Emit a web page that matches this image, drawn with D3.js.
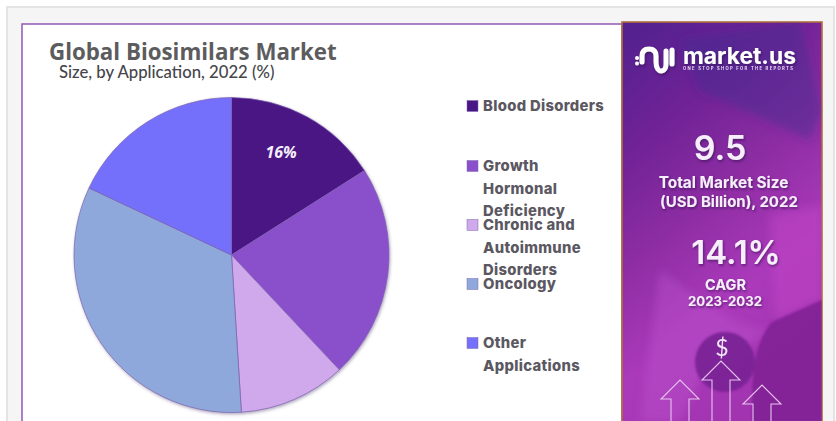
<!DOCTYPE html>
<html>
<head>
<meta charset="utf-8">
<style>
html,body{margin:0;padding:0;background:#fff;}
svg{display:block;}
</style>
<script src="https://cdn.jsdelivr.net/npm/d3@7/dist/d3.min.js"></script>
</head>
<body>
<svg id="chart" width="836" height="421"></svg>
<script>
// Market share by application, 2022 (%)
const categories = ["Blood Disorders", "Growth Hormonal Deficiency", "Chronic and Autoimmune Disorders", "Oncology", "Other Applications"];
const shares = [16, 22, 11, 33, 18];
const colors = ["#4a1584", "#8a4fcb", "#d0a8ec", "#8fa8dc", "#7470fb"];
const labelledSlices = ["Blood Disorders"];
const legendLines = [["Blood Disorders"], ["Growth", "Hormonal", "Deficiency"], ["Chronic and", "Autoimmune", "Disorders"], ["Oncology"], ["Other", "Applications"]];
const legendTops = [106, 166, 225, 284, 343];
const lineGap = 22.5;

const svg = d3.select("#chart");
const defs = svg.append("defs");

const pieShadow = defs.append("filter").attr("id", "pieShadow")
  .attr("x", "-10%").attr("y", "-10%").attr("width", "120%").attr("height", "120%");
pieShadow.append("feDropShadow").attr("dx", 1).attr("dy", 1.5).attr("stdDeviation", 1.5)
  .attr("flood-color", "#4a3a70").attr("flood-opacity", 0.45);

const textShadow = defs.append("filter").attr("id", "textShadow")
  .attr("x", "-20%").attr("y", "-20%").attr("width", "140%").attr("height", "150%");
textShadow.append("feDropShadow").attr("dx", 1).attr("dy", 1.5).attr("stdDeviation", 1)
  .attr("flood-color", "#2c0a4a").attr("flood-opacity", 0.6);

const panelFill = defs.append("linearGradient").attr("id", "panelFill")
  .attr("x1", 0.1).attr("y1", 0).attr("x2", 0.5).attr("y2", 1);
[["0%", "#54218f"], ["25%", "#6f2296"], ["50%", "#8e2da3"], ["75%", "#ab3abb"], ["100%", "#a234b0"]]
  .forEach(([o, c]) => panelFill.append("stop").attr("offset", o).attr("stop-color", c));

const softBlur = defs.append("filter").attr("id", "softBlur");
softBlur.append("feGaussianBlur").attr("stdDeviation", 4);
const faintBlur = defs.append("filter").attr("id", "faintBlur");
faintBlur.append("feGaussianBlur").attr("stdDeviation", 1);

// Page card and framed chart area
svg.append("rect").attr("x", 7).attr("y", 7).attr("width", 827).attr("height", 420)
  .attr("fill", "#f5f5f5").attr("stroke", "#e4e4e4").attr("stroke-width", 2);
svg.append("rect").attr("x", 22).attr("y", 24).attr("width", 600).attr("height", 400)
  .attr("fill", "#fff").attr("stroke", "#9a62b8").attr("stroke-width", 1.6);

svg.append("text").attr("x", 49).attr("y", 60)
  .attr("font-family", "'Open Sans', sans-serif").attr("font-weight", 700).attr("font-size", 22.3)
  .attr("fill", "#5c5c5e").text("Global Biosimilars Market");
svg.append("text").attr("x", 59).attr("y", 78)
  .attr("font-family", "Lato, sans-serif").attr("font-weight", 500).attr("font-size", 16.7)
  .attr("fill", "#45454a").text("Size, by Application, 2022 (%)");

// Pie, clockwise from twelve o'clock
const rows = categories.map((name, i) => ({ name, share: shares[i], color: colors[i] }));
const pie = d3.pie().sort(null).value(d => d.share);
const radius = 157.5;
const arc = d3.arc().innerRadius(0).outerRadius(radius);
const labelArc = d3.arc().innerRadius(radius * 0.68).outerRadius(radius * 0.68);
const pieLayer = svg.append("g").attr("transform", "translate(231.5,255)");
pieLayer.append("g").attr("filter", "url(#pieShadow)").selectAll("path")
  .data(pie(rows)).join("path")
  .attr("d", arc)
  .attr("fill", d => d.data.color)
  .attr("stroke", "#7d62ae").attr("stroke-width", 0.7);
pieLayer.selectAll("text")
  .data(pie(rows).filter(d => labelledSlices.includes(d.data.name))).join("text")
  .attr("x", d => labelArc.centroid(d)[0] - 2)
  .attr("y", d => labelArc.centroid(d)[1] - 3)
  .attr("text-anchor", "middle")
  .attr("font-family", "'Open Sans', sans-serif").attr("font-style", "italic").attr("font-weight", 700)
  .attr("font-size", 16).attr("fill", "#f4effa")
  .text(d => d.data.share + "%");

// Legend
const legend = svg.append("g");
rows.forEach((row, i) => {
  const cy = legendTops[i];
  legend.append("rect").attr("x", 467).attr("y", cy - 5.5).attr("width", 11).attr("height", 11)
    .attr("fill", row.color).attr("stroke", "#7f68b0").attr("stroke-width", 0.5);
  legendLines[i].forEach((line, j) => {
    legend.append("text").attr("x", 483).attr("y", cy + j * lineGap + 5)
      .attr("font-family", "Inter, sans-serif").attr("font-weight", 800).attr("font-size", 14.8)
      .attr("letter-spacing", 0.32)
      .attr("fill", "#5b5862").text(line);
  });
});

// Side panel
const panel = svg.append("g");
const panelClip = defs.append("clipPath").attr("id", "panelClip");
panelClip.append("rect").attr("x", 622).attr("y", 22).attr("width", 200).attr("height", 400);
panel.append("rect").attr("x", 622).attr("y", 22).attr("width", 200).attr("height", 402)
  .attr("fill", "url(#panelFill)").attr("stroke", "#b0703e").attr("stroke-width", 1.6);

const backdrop = panel.append("g").attr("clip-path", "url(#panelClip)").attr("filter", "url(#softBlur)");
backdrop.append("path").attr("d", "M680 40L800 22L822 110L810 140L700 90Z").attr("fill", "#3f2d8f").attr("opacity", 0.45);
backdrop.append("path").attr("d", "M770 215L822 205V300L775 320Z").attr("fill", "#bf43c4").attr("opacity", 0.55);
backdrop.append("path").attr("d", "M660 270C700 300 740 330 770 330L700 380L680 422H640Z").attr("fill", "#c05ad0").attr("opacity", 0.35);
const sharpBackdrop = panel.append("g").attr("clip-path", "url(#panelClip)").attr("filter", "url(#faintBlur)");
sharpBackdrop.append("path").attr("d", "M772 322L822 300V422H752C752 380 752 345 772 322Z").attr("fill", "#7f2093").attr("opacity", 0.85);
sharpBackdrop.append("circle").attr("cx", 725).attr("cy", 362).attr("r", 30).attr("fill", "#7a2296").attr("opacity", 0.95);

// Logo mark and wordmark
const logo = panel.append("g").attr("filter", "url(#textShadow)");
logo.append("path")
  .attr("d", "M642 62V56C642 50 646 49 649 49C653 49 656 51 656 56V62C656 69 659 71 661 71C664 71 666 68 666 64V51M672 50V64")
  .attr("fill", "none").attr("stroke", "#fff").attr("stroke-width", 5).attr("stroke-linecap", "round");
logo.append("circle").attr("cx", 637).attr("cy", 58).attr("r", 2).attr("fill", "#fff");
logo.append("circle").attr("cx", 637).attr("cy", 63.5).attr("r", 2).attr("fill", "#fff");
logo.append("text").attr("x", 683).attr("y", 64)
  .attr("font-family", "Inter, sans-serif").attr("font-weight", 700).attr("font-size", 22.8)
  .attr("fill", "#fff").text("market.us");
panel.append("text").attr("x", 683).attr("y", 69.5)
  .attr("font-family", "Inter, sans-serif").attr("font-weight", 700).attr("font-size", 4.2)
  .attr("letter-spacing", 1.3).attr("fill", "#e8d8f0").text("ONE STOP SHOP FOR THE REPORTS");

const statRows = [
  { text: "9.5", x: 720, y: 160, size: 34, weight: 600 },
  { text: "Total Market Size", x: 723.5, y: 188, size: 15.4, weight: 700 },
  { text: "(USD Billion), 2022", x: 729, y: 207, size: 15, weight: 700 },
  { text: "14.1%", x: 736, y: 264, size: 33, weight: 600 },
  { text: "CAGR", x: 725.5, y: 290, size: 14.5, weight: 700 },
  { text: "2023-2032", x: 725, y: 306, size: 13.2, weight: 700 }
];
panel.append("g").attr("filter", "url(#textShadow)").selectAll("text")
  .data(statRows).join("text")
  .attr("x", d => d.x).attr("y", d => d.y).attr("text-anchor", "middle")
  .attr("font-family", "Inter, sans-serif")
  .attr("font-size", d => d.size).attr("font-weight", d => d.weight)
  .attr("fill", "#f7eefb").text(d => d.text);

// Dollar sign and outlined rising arrows
panel.append("text").attr("x", 722).attr("y", 356).attr("text-anchor", "middle")
  .attr("font-family", "Lato, sans-serif").attr("font-size", 23).attr("fill", "#f3e6f8").text("$");
const arrowOutline = (cx, tip) =>
  `M${cx - 9} 423V${tip + 19}H${cx - 19}L${cx} ${tip}L${cx + 19} ${tip + 19}H${cx + 9}V423`;
panel.append("g").attr("clip-path", "url(#panelClip)").selectAll("path")
  .data([[680, 380], [721, 361], [762, 385]]).join("path")
  .attr("d", d => arrowOutline(d[0], d[1]))
  .attr("fill", "none").attr("stroke", "#e6c4ee").attr("stroke-width", 1.1);
</script>
</body>
</html>
